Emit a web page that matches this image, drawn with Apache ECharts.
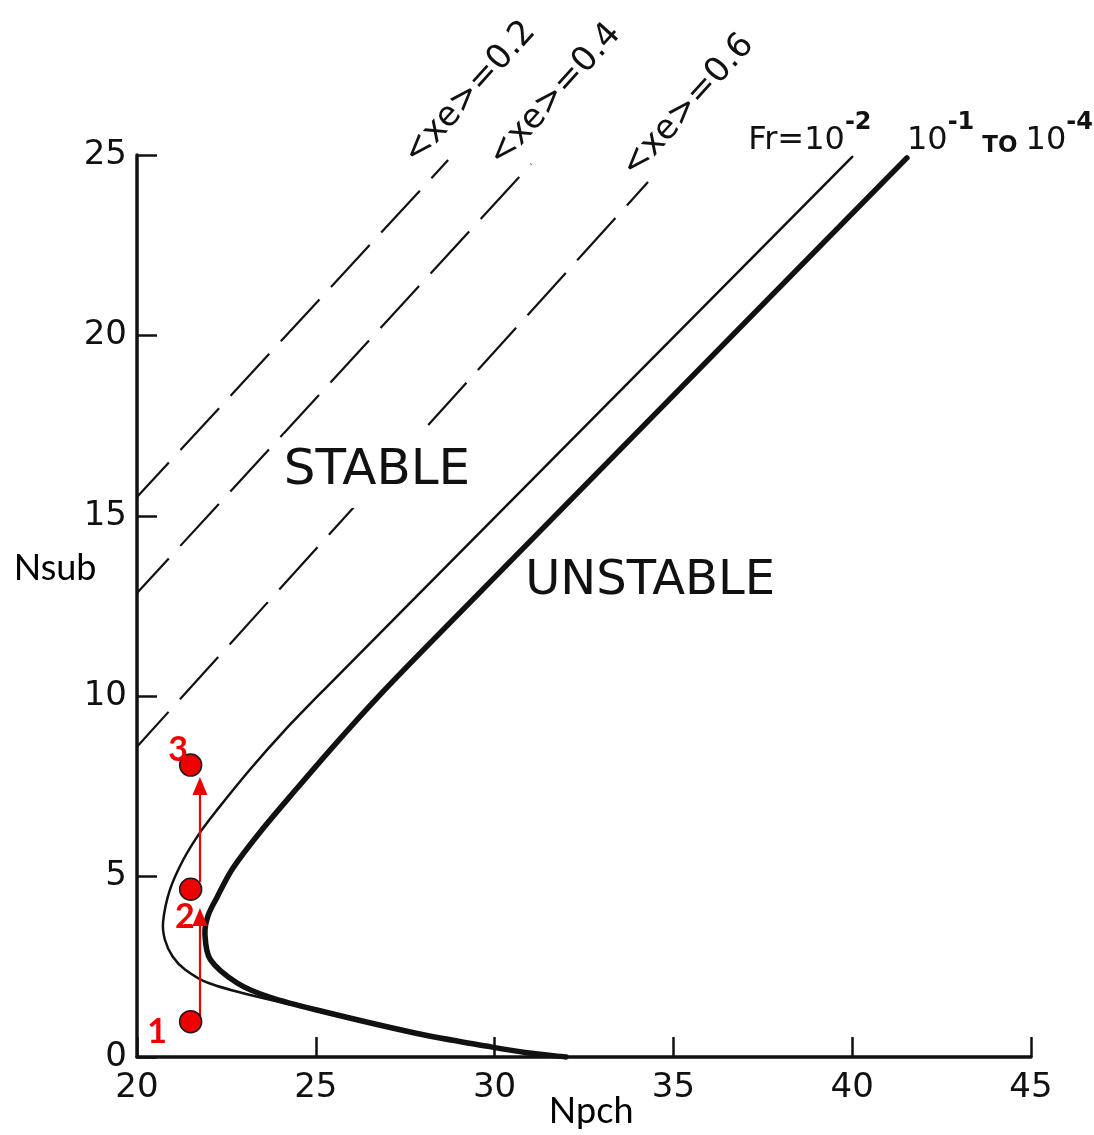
<!DOCTYPE html>
<html>
<head>
<meta charset="utf-8">
<script src="https://cdn.jsdelivr.net/npm/echarts@6/dist/echarts.min.js"></script>
<style>
  html, body { margin: 0; padding: 0; background: #ffffff; }
  #chart { width: 1094px; height: 1135px; }
</style>
</head>
<body>
<div id="chart"></div>
<script>
// Axis ticks
const npchTicks = [20, 25, 30, 35, 40, 45];
const nsubTicks = [0, 5, 10, 15, 20, 25];

// Constant exit-quality lines [Npch, Nsub]
const xe02 = [[20, 15.52], [28.70, 24.86]];
const xe04 = [[20, 12.86], [31.02, 24.75]];
const xe06 = [[20, 8.60], [34.29, 24.25]];

// Stability boundary, Fr = 1e-2 (thin)
const frCurve = [
  [32.0, 0.0], [30.9, 0.12], [29.9, 0.28], [27.8, 0.66], [25.2, 1.26],
  [23.4, 1.66], [22.0, 2.05], [21.35, 2.42], [21.0, 2.78], [20.78, 3.25],
  [20.73, 3.75], [20.92, 4.63], [21.29, 5.46], [21.76, 6.22], [22.24, 6.85],
  [23.16, 7.97], [24.08, 9.00], [25.2, 10.15], [28.6, 13.55], [33.0, 17.95],
  [40.0, 24.95]
];

// Stability boundary, Fr = 1e-1 to 1e-4 (thick)
const frRangeCurve = [
  [32.0, 0.0], [30.9, 0.12], [29.9, 0.28], [27.8, 0.66], [25.2, 1.26],
  [23.7, 1.66], [22.8, 2.05], [22.05, 2.70], [21.9, 3.4], [21.98, 3.9],
  [22.24, 4.43], [22.68, 5.23], [23.44, 6.23], [24.47, 7.44], [25.59, 8.72],
  [26.88, 10.125], [28.64, 11.92], [34.32, 17.65], [41.53, 24.92]
];

// Operating path: states 1 -> 2 -> 3
const pathPoints = [[21.5, 0.98], [21.5, 4.65], [21.5, 8.09]];
const pathNames = ['1', '2', '3'];
const pathNameAt = [[20.56, 0.69], [21.34, 3.88], [21.15, 8.51]];
// arrow shafts: [tail, tip]
const pathArrows = [
  [[21.76, 1.11], [21.76, 4.13]],
  [[21.76, 4.85], [21.76, 7.76]]
];

// Text annotations
const xeLabels = ['<xe>=0.2', '<xe>=0.4', '<xe>=0.6'];
const xeLabelAt = [[29.31, 26.72], [31.69, 26.66], [35.41, 26.36]];
const regionLabels = ['STABLE', 'UNSTABLE'];
const regionLabelAt = [[26.71, 16.24], [34.35, 13.17]];

const INK = '#111111';
const RED = '#ee0000';
const LETTER = 'DejaVu Sans';
const CALIBRI_LIKE = 'Lato';

const chart = echarts.init(document.getElementById('chart'), null, { renderer: 'canvas' });

// Smooth path through pixel points (chord-length weighted tangents)
function splinePath(pts) {
  const n = pts.length;
  const dist = (a, b) => Math.hypot(b[0] - a[0], b[1] - a[1]);
  const tan = pts.map((p, i) => {
    const a = pts[Math.max(i - 1, 0)];
    const b = pts[Math.min(i + 1, n - 1)];
    const den = dist(a, p) + dist(p, b) || 1;
    return [(b[0] - a[0]) / den, (b[1] - a[1]) / den];
  });
  let d = 'M' + pts[0][0] + ' ' + pts[0][1];
  for (let i = 0; i < n - 1; i++) {
    const p = pts[i], q = pts[i + 1];
    const L = dist(p, q) / 3;
    const c1 = [p[0] + tan[i][0] * L, p[1] + tan[i][1] * L];
    const c2 = [q[0] - tan[i + 1][0] * L, q[1] - tan[i + 1][1] * L];
    d += ' C' + c1[0] + ' ' + c1[1] + ' ' + c2[0] + ' ' + c2[1] + ' ' + q[0] + ' ' + q[1];
  }
  return d;
}

const curveSeries = (curve, width) => ({
  type: 'custom', coordinateSystem: 'cartesian2d', silent: true, z: 4, clip: false,
  data: [curve[0]],
  renderItem: (params, api) => ({
    type: 'path',
    shape: { pathData: splinePath(curve.map(p => api.coord(p))) },
    style: { fill: 'none', stroke: INK, lineWidth: width, lineJoin: 'round', lineCap: 'round' }
  })
});

const dashed = (data) => ({
  type: 'line', data, showSymbol: false, silent: true, z: 3,
  lineStyle: { color: INK, width: 2.2, type: [57, 17], dashOffset: 10 }
});

chart.setOption({
  animation: false,
  backgroundColor: '#ffffff',
  grid: { left: 137, right: 63, top: 155, bottom: 78, containLabel: false },
  xAxis: {
    type: 'value',
    min: npchTicks[0], max: npchTicks[npchTicks.length - 1],
    interval: npchTicks[1] - npchTicks[0],
    axisLine: { show: true, onZero: false, lineStyle: { color: INK, width: 3.5 } },
    axisTick: { show: true, inside: true, length: 20, lineStyle: { color: INK, width: 2.5 } },
    axisLabel: { color: INK, fontFamily: LETTER, fontSize: 34, margin: 14 },
    splitLine: { show: false }
  },
  yAxis: {
    type: 'value',
    min: nsubTicks[0], max: nsubTicks[nsubTicks.length - 1],
    interval: nsubTicks[1] - nsubTicks[0],
    axisLine: { show: true, onZero: false, lineStyle: { color: INK, width: 3.5 } },
    axisTick: { show: true, inside: true, length: 20, lineStyle: { color: INK, width: 2.5 } },
    axisLabel: { color: INK, fontFamily: LETTER, fontSize: 34, margin: 10 },
    splitLine: { show: false }
  },
  series: [
    dashed(xe02),
    dashed(xe04),
    dashed(xe06),
    curveSeries(frCurve, 2.5),
    curveSeries(frRangeCurve, 5.5),
    {
      // arrow shafts
      type: 'lines', coordinateSystem: 'cartesian2d', silent: true, z: 6,
      symbol: ['none', 'none'],
      lineStyle: { color: RED, width: 2.2, opacity: 1 },
      data: pathArrows.map(c => ({ coords: [c[0], [c[1][0], c[1][1] - 0.3]] }))
    },
    {
      // arrow heads, tip at the end of each shaft
      type: 'scatter', data: pathArrows.map(c => c[1]), symbol: 'triangle',
      symbolSize: [15, 18], symbolOffset: [0, '50%'], silent: true, z: 6,
      itemStyle: { color: RED, opacity: 1 }
    },
    {
      type: 'scatter', data: pathPoints, symbol: 'circle', symbolSize: 22, silent: true, z: 7,
      itemStyle: { color: RED, borderColor: '#1a1a1a', borderWidth: 1.5, opacity: 1 }
    }
  ]
});

// Annotations placed at data coordinates
const px = (p) => chart.convertToPixel({ gridIndex: 0 }, p);
const graphics = [];

xeLabels.forEach((t, i) => {
  const p = px(xeLabelAt[i]);
  graphics.push({
    type: 'text', x: p[0], y: p[1], rotation: 48 * Math.PI / 180, z: 100,
    style: { text: t, fill: INK, font: '34px "' + LETTER + '"', align: 'center', verticalAlign: 'middle' }
  });
});

regionLabels.forEach((t, i) => {
  const p = px(regionLabelAt[i]);
  const style = {
    text: t, fill: INK, font: (i === 0 ? 50 : 48) + 'px "' + LETTER + '"',
    align: 'center', verticalAlign: 'middle'
  };
  if (i === 0) {
    // the <xe>=0.6 line is broken where it crosses this label
    style.backgroundColor = '#ffffff';
    style.padding = [12, 0];
  }
  graphics.push({ type: 'text', x: p[0], y: p[1], z: 100, style });
});

// Froude number labels
const frAt = px([37.09, 24.94]);
graphics.push({
  type: 'text', x: frAt[0], y: frAt[1], z: 100,
  style: {
    text: '{m|Fr=10}{s|-2}', align: 'left', verticalAlign: 'bottom', fill: INK,
    rich: {
      m: { fontFamily: LETTER, fontSize: 32, fill: INK, lineHeight: 46, verticalAlign: 'bottom' },
      s: { fontFamily: LETTER, fontSize: 24, fontWeight: 'bold', fill: INK, lineHeight: 24, verticalAlign: 'top' }
    }
  }
});
const frRangeAt = px([41.53, 24.94]);
graphics.push({
  type: 'text', x: frRangeAt[0], y: frRangeAt[1], z: 100,
  style: {
    text: '{m|10}{s|-1}{t| TO }{m|10}{s|-4}', align: 'left', verticalAlign: 'bottom', fill: INK,
    rich: {
      m: { fontFamily: LETTER, fontSize: 32, fill: INK, lineHeight: 46, verticalAlign: 'bottom' },
      s: { fontFamily: LETTER, fontSize: 24, fontWeight: 'bold', fill: INK, lineHeight: 24, verticalAlign: 'top' },
      t: { fontFamily: LETTER, fontSize: 23, fontWeight: 'bold', fill: INK, lineHeight: 30, verticalAlign: 'bottom' }
    }
  }
});

// Path state numbers
pathNames.forEach((t, i) => {
  const p = px(pathNameAt[i]);
  graphics.push({
    type: 'text', x: p[0], y: p[1], z: 100,
    style: { text: t, fill: RED, font: 'bold 34px "' + CALIBRI_LIKE + '"', align: 'center', verticalAlign: 'middle' }
  });
});

// Axis titles
const nsubAt = px([17.71, 13.53]);
graphics.push({
  type: 'text', x: nsubAt[0], y: nsubAt[1], z: 100,
  style: { text: 'Nsub', fill: '#000', font: '36px "' + CALIBRI_LIKE + '"', align: 'center', verticalAlign: 'middle' }
});
const npchAt = px([32.70, -1.52]);
graphics.push({
  type: 'text', x: npchAt[0], y: npchAt[1], z: 100,
  style: { text: 'Npch', fill: '#000', font: '36px "' + CALIBRI_LIKE + '"', align: 'center', verticalAlign: 'middle' }
});

chart.setOption({ graphic: graphics });
</script>
</body>
</html>
